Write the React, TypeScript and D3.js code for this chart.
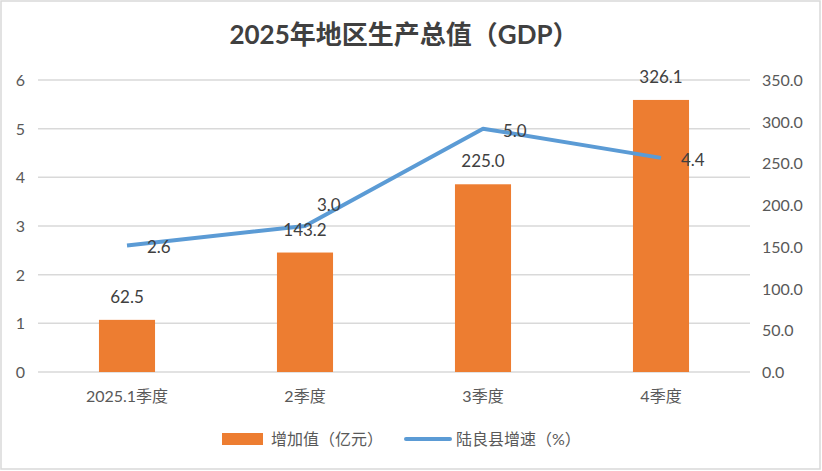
import { useEffect, useRef } from "react";
import * as d3 from "d3";

const width = 822;
const height = 471;

const categories = ["2025.1季度", "2季度", "3季度", "4季度"];
const addedValue = [62.5, 143.2, 225.0, 326.1]; // 增加值（亿元）, right axis
const growthRate = [2.6, 3.0, 5.0, 4.4]; // 陆良县增速（%）, left axis
const leftTicks = [0, 1, 2, 3, 4, 5, 6];
const rightTicks = [0, 50, 100, 150, 200, 250, 300, 350];

const orange = "#ED7D31";
const blue = "#5B9BD5";
const gridColor = "#D9D9D9";
const textColor = "#595959";
const font = "Lato, 'Noto Sans CJK SC', sans-serif";

export default function App() {
    const ref = useRef<SVGSVGElement>(null);

    useEffect(() => {
        const svg = d3.select(ref.current);
        svg.selectAll("*").remove();

        const margin = { left: 38, right: 72, top: 80, bottom: 99 };
        const x0 = margin.left, x1 = width - margin.right;
        const y0 = height - margin.bottom, y1 = margin.top;

        const x = d3.scaleBand<string>().domain(categories).range([x0, x1]);
        const yLeft = d3.scaleLinear().domain([0, 6]).range([y0, y1]);
        const yRight = d3.scaleLinear().domain([0, 350]).range([y0, y1]);
        const barW = x.bandwidth() * 0.315;
        const cx = (c: string) => (x(c) ?? 0) + x.bandwidth() / 2;

        // outer frame
        svg.append("rect")
            .attr("x", 1).attr("y", 1)
            .attr("width", width - 3).attr("height", height - 3)
            .attr("fill", "white")
            .attr("stroke", gridColor)
            .attr("stroke-width", 1.5);

        // title
        svg.append("text")
            .attr("x", 404).attr("y", 44)
            .attr("text-anchor", "middle")
            .attr("font-family", font)
            .attr("font-size", 26)
            .attr("font-weight", "bold")
            .attr("fill", "#404040")
            .text("2025年地区生产总值（GDP）");

        // grid
        svg.append("g").selectAll("line")
            .data(leftTicks).enter().append("line")
                .attr("x1", x0).attr("x2", x1)
                .attr("y1", d => yLeft(d)).attr("y2", d => yLeft(d))
                .attr("stroke", gridColor)
                .attr("stroke-width", 1.5);

        // left axis labels
        svg.append("g").selectAll("text")
            .data(leftTicks).enter().append("text")
                .attr("x", 25).attr("y", d => yLeft(d) + 6)
                .attr("text-anchor", "end")
                .attr("font-family", font).attr("font-size", 16)
                .attr("fill", textColor)
                .text(d => d);

        // right axis labels
        svg.append("g").selectAll("text")
            .data(rightTicks).enter().append("text")
                .attr("x", 762).attr("y", d => yRight(d) + 6)
                .attr("font-family", font).attr("font-size", 16)
                .attr("fill", textColor)
                .text(d => d.toFixed(1));

        // category labels
        svg.append("g").selectAll("text")
            .data(categories).enter().append("text")
                .attr("x", d => cx(d)).attr("y", y0 + 30)
                .attr("text-anchor", "middle")
                .attr("font-family", font).attr("font-size", 16)
                .attr("fill", textColor)
                .text(d => d);

        // bars
        svg.append("g").selectAll("rect")
            .data(addedValue).enter().append("rect")
                .attr("x", (d, i) => cx(categories[i]) - barW / 2)
                .attr("y", d => yRight(d))
                .attr("width", barW)
                .attr("height", d => y0 - yRight(d))
                .attr("fill", orange);

        // line
        const line = d3.line<number>()
            .x((d, i) => cx(categories[i]))
            .y(d => yLeft(d));
        svg.append("path")
            .datum(growthRate)
            .attr("d", line)
            .attr("fill", "none")
            .attr("stroke", blue)
            .attr("stroke-width", 4)
            .attr("stroke-linejoin", "round");

        // bar labels
        svg.append("g").selectAll("text")
            .data(addedValue).enter().append("text")
                .attr("x", (d, i) => cx(categories[i]))
                .attr("y", d => yRight(d) - 17)
                .attr("text-anchor", "middle")
                .attr("font-family", font).attr("font-size", 17)
                .attr("fill", "#404040")
                .text(d => d.toFixed(1));

        // line labels (the 2nd one was nudged up in the original)
        const labelShift = [[20, 8], [12, -15], [20, 8], [20, 8]];
        svg.append("g").selectAll("text")
            .data(growthRate).enter().append("text")
                .attr("x", (d, i) => cx(categories[i]) + labelShift[i][0])
                .attr("y", (d, i) => yLeft(d) + labelShift[i][1])
                .attr("font-family", font).attr("font-size", 17)
                .attr("fill", "#404040")
                .text(d => d.toFixed(1));

        // legend
        const lg = svg.append("g").attr("font-family", font).attr("font-size", 16).attr("fill", textColor);
        lg.append("rect")
            .attr("x", 222).attr("y", 433).attr("width", 41).attr("height", 12)
            .attr("fill", orange);
        lg.append("text").attr("x", 271).attr("y", 445).text("增加值（亿元）");
        lg.append("line")
            .attr("x1", 406).attr("x2", 450).attr("y1", 439).attr("y2", 439)
            .attr("stroke", blue).attr("stroke-width", 4).attr("stroke-linecap", "round");
        lg.append("text").attr("x", 456).attr("y", 445).text("陆良县增速（%）");

        return () => {
            svg.selectAll("*").remove();
        };
    }, [ref]);

    return (
        <svg
            ref={ref}
            width={width}
            height={height}
            style={{ position: "absolute", left: 0, top: 0 }}
        />
    );
}
